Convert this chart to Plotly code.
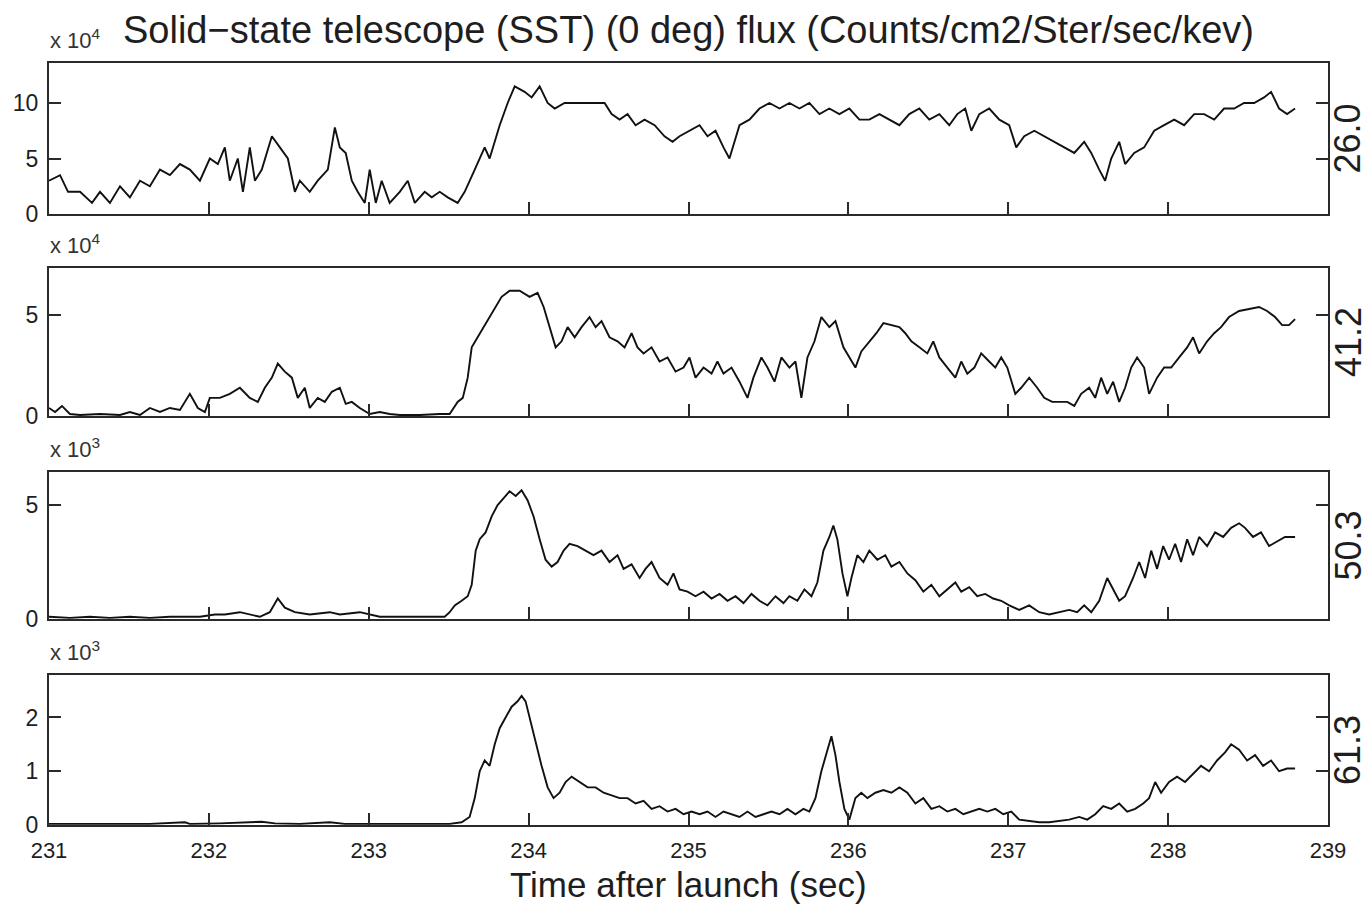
import plotly.graph_objects as go

# Energy channel (keV) for each panel, top to bottom
channels = ["26.0", "41.2", "50.3", "61.3"]
exponents = [4, 4, 3, 3]

# Panel 1: 26.0 keV
t1 = [231.000, 231.069, 231.119, 231.194, 231.269, 231.319, 231.381, 231.444, 231.506, 231.569,
      231.631, 231.694, 231.756, 231.819, 231.881, 231.944, 232.006, 232.056, 232.100, 232.131,
      232.181, 232.213, 232.256, 232.288, 232.331, 232.394, 232.444, 232.494, 232.538, 232.569,
      232.631, 232.681, 232.744, 232.788, 232.819, 232.856, 232.894, 232.931, 232.975, 233.006,
      233.044, 233.081, 233.131, 233.194, 233.244, 233.288, 233.350, 233.394, 233.444, 233.494,
      233.556, 233.600, 233.663, 233.725, 233.756, 233.819, 233.869, 233.913, 233.975, 234.019,
      234.069, 234.119, 234.163, 234.225, 234.288, 234.350, 234.413, 234.475, 234.519, 234.569,
      234.619, 234.669, 234.725, 234.788, 234.850, 234.900, 234.944, 235.006, 235.069, 235.119,
      235.169, 235.219, 235.256, 235.319, 235.381, 235.444, 235.506, 235.569, 235.631, 235.694,
      235.756, 235.819, 235.881, 235.944, 236.006, 236.069, 236.131, 236.194, 236.256, 236.319,
      236.381, 236.444, 236.506, 236.569, 236.631, 236.681, 236.731, 236.769, 236.819, 236.881,
      236.944, 237.006, 237.050, 237.100, 237.163, 237.225, 237.288, 237.350, 237.413, 237.475,
      237.519, 237.569, 237.606, 237.644, 237.694, 237.731, 237.788, 237.850, 237.913, 237.975,
      238.038, 238.100, 238.163, 238.225, 238.288, 238.350, 238.413, 238.475, 238.538, 238.600,
      238.644, 238.694, 238.744, 238.794]
f1 = [3.0, 3.5, 2.0, 2.0, 1.0, 2.0, 1.0, 2.5, 1.5, 3.0,
      2.5, 4.0, 3.5, 4.5, 4.0, 3.0, 5.0, 4.5, 6.0, 3.0,
      5.0, 2.0, 6.0, 3.0, 4.0, 7.0, 6.0, 5.0, 2.0, 3.0,
      2.0, 3.0, 4.0, 7.8, 6.0, 5.5, 3.0, 2.0, 1.0, 4.0,
      1.0, 3.0, 1.0, 2.0, 3.0, 1.0, 2.0, 1.5, 2.0, 1.5,
      1.0, 2.0, 4.0, 6.0, 5.0, 8.0, 10.0, 11.5, 11.0, 10.5,
      11.5, 10.0, 9.5, 10.0, 10.0, 10.0, 10.0, 10.0, 9.0, 8.5,
      9.0, 8.0, 8.5, 8.0, 7.0, 6.5, 7.0, 7.5, 8.0, 7.0,
      7.5, 6.0, 5.0, 8.0, 8.5, 9.5, 10.0, 9.5, 10.0, 9.5,
      10.0, 9.0, 9.5, 9.0, 9.5, 8.5, 8.5, 9.0, 8.5, 8.0,
      9.0, 9.5, 8.5, 9.0, 8.0, 9.0, 9.5, 7.5, 9.0, 9.5,
      8.5, 8.0, 6.0, 7.0, 7.5, 7.0, 6.5, 6.0, 5.5, 6.5,
      5.5, 4.0, 3.0, 5.0, 6.5, 4.5, 5.5, 6.0, 7.5, 8.0,
      8.5, 8.0, 9.0, 9.0, 8.5, 9.5, 9.5, 10.0, 10.0, 10.5,
      11.0, 9.5, 9.0, 9.5]

# Panel 2: 41.2 keV
t2 = [231.000, 231.038, 231.081, 231.131, 231.194, 231.319, 231.444, 231.506, 231.569, 231.631,
      231.694, 231.756, 231.819, 231.881, 231.931, 231.975, 232.006, 232.069, 232.131, 232.194,
      232.256, 232.306, 232.350, 232.394, 232.431, 232.475, 232.519, 232.556, 232.600, 232.631,
      232.681, 232.725, 232.769, 232.819, 232.856, 232.894, 232.944, 233.006, 233.069, 233.131,
      233.194, 233.319, 233.444, 233.506, 233.556, 233.588, 233.619, 233.644, 233.681, 233.719,
      233.756, 233.794, 233.831, 233.881, 233.944, 234.006, 234.056, 234.094, 234.131, 234.169,
      234.206, 234.244, 234.288, 234.331, 234.381, 234.419, 234.456, 234.506, 234.556, 234.600,
      234.644, 234.681, 234.719, 234.769, 234.819, 234.869, 234.919, 234.969, 235.006, 235.044,
      235.094, 235.144, 235.181, 235.219, 235.269, 235.319, 235.369, 235.406, 235.456, 235.494,
      235.538, 235.581, 235.631, 235.669, 235.706, 235.744, 235.788, 235.831, 235.881, 235.919,
      235.969, 236.006, 236.044, 236.081, 236.131, 236.175, 236.219, 236.269, 236.319, 236.356,
      236.394, 236.444, 236.494, 236.531, 236.569, 236.619, 236.669, 236.706, 236.744, 236.788,
      236.831, 236.881, 236.919, 236.956, 236.994, 237.044, 237.081, 237.131, 237.181, 237.225,
      237.275, 237.319, 237.369, 237.413, 237.456, 237.506, 237.544, 237.581, 237.619, 237.656,
      237.694, 237.731, 237.769, 237.806, 237.850, 237.881, 237.931, 237.975, 238.019, 238.069,
      238.119, 238.156, 238.194, 238.244, 238.288, 238.331, 238.381, 238.444, 238.506, 238.569,
      238.619, 238.669, 238.713, 238.756, 238.794]
f2 = [0.4, 0.2, 0.5, 0.1, 0.05, 0.1, 0.05, 0.2, 0.05, 0.4,
      0.2, 0.4, 0.3, 1.1, 0.4, 0.2, 0.9, 0.9, 1.1, 1.4,
      0.9, 0.7, 1.4, 1.9, 2.6, 2.2, 1.9, 0.9, 1.4, 0.4,
      0.9, 0.7, 1.2, 1.4, 0.6, 0.7, 0.4, 0.1, 0.2, 0.1,
      0.05, 0.05, 0.1, 0.1, 0.7, 0.9, 1.9, 3.4, 3.9, 4.4,
      4.9, 5.4, 5.9, 6.2, 6.2, 5.9, 6.1, 5.4, 4.4, 3.4,
      3.7, 4.4, 3.9, 4.4, 4.9, 4.4, 4.7, 3.9, 3.7, 3.4,
      4.1, 3.4, 3.1, 3.4, 2.7, 2.9, 2.2, 2.4, 2.9, 1.9,
      2.4, 2.1, 2.7, 2.1, 2.4, 1.7, 0.9, 1.9, 2.9, 2.4,
      1.7, 2.9, 2.4, 2.7, 0.9, 2.9, 3.7, 4.9, 4.4, 4.7,
      3.4, 2.9, 2.4, 3.2, 3.7, 4.1, 4.6, 4.5, 4.4, 4.1,
      3.7, 3.4, 3.1, 3.7, 2.9, 2.4, 1.9, 2.7, 2.1, 2.4,
      3.1, 2.7, 2.4, 2.9, 2.4, 1.1, 1.4, 1.9, 1.4, 0.9,
      0.7, 0.7, 0.7, 0.5, 1.1, 1.4, 0.9, 1.9, 1.1, 1.7,
      0.7, 1.4, 2.4, 2.9, 2.4, 1.1, 1.9, 2.4, 2.4, 2.9,
      3.4, 3.9, 3.1, 3.7, 4.1, 4.4, 4.9, 5.2, 5.3, 5.4,
      5.2, 4.9, 4.5, 4.5, 4.8]

# Panel 3: 50.3 keV
t3 = [231.000, 231.131, 231.256, 231.381, 231.506, 231.631, 231.756, 231.881, 231.944, 232.038,
      232.100, 232.194, 232.319, 232.381, 232.431, 232.475, 232.538, 232.631, 232.756, 232.819,
      232.944, 233.069, 233.194, 233.381, 233.475, 233.506, 233.538, 233.581, 233.619, 233.644,
      233.669, 233.694, 233.731, 233.769, 233.806, 233.844, 233.881, 233.919, 233.956, 233.994,
      234.031, 234.069, 234.106, 234.144, 234.181, 234.219, 234.256, 234.306, 234.356, 234.406,
      234.456, 234.506, 234.556, 234.594, 234.644, 234.694, 234.731, 234.769, 234.819, 234.869,
      234.906, 234.944, 234.994, 235.044, 235.094, 235.144, 235.194, 235.244, 235.294, 235.344,
      235.394, 235.444, 235.494, 235.544, 235.594, 235.631, 235.681, 235.725, 235.769, 235.806,
      235.844, 235.881, 235.906, 235.931, 235.963, 235.994, 236.019, 236.056, 236.094, 236.131,
      236.181, 236.231, 236.269, 236.319, 236.369, 236.419, 236.469, 236.519, 236.569, 236.619,
      236.669, 236.706, 236.756, 236.806, 236.856, 236.906, 236.956, 237.006, 237.069, 237.131,
      237.194, 237.256, 237.319, 237.381, 237.431, 237.475, 237.519, 237.569, 237.619, 237.656,
      237.694, 237.731, 237.781, 237.819, 237.856, 237.894, 237.931, 237.969, 238.006, 238.044,
      238.081, 238.119, 238.156, 238.194, 238.244, 238.294, 238.344, 238.394, 238.444, 238.481,
      238.531, 238.581, 238.631, 238.681, 238.731, 238.794]
f3 = [0.1, 0.05, 0.1, 0.05, 0.1, 0.05, 0.1, 0.1, 0.1, 0.2,
      0.2, 0.3, 0.1, 0.3, 0.9, 0.5, 0.3, 0.2, 0.3, 0.2,
      0.3, 0.1, 0.1, 0.1, 0.1, 0.3, 0.6, 0.8, 1.0, 1.5,
      3.0, 3.5, 3.8, 4.5, 5.0, 5.3, 5.6, 5.4, 5.65, 5.2,
      4.5, 3.5, 2.6, 2.3, 2.5, 3.0, 3.3, 3.2, 3.0, 2.8,
      3.0, 2.5, 2.8, 2.2, 2.4, 1.8, 2.2, 2.5, 1.8, 1.5,
      2.0, 1.3, 1.2, 1.0, 1.2, 0.9, 1.1, 0.8, 1.0, 0.7,
      1.1, 0.8, 0.6, 1.0, 0.7, 1.0, 0.8, 1.3, 1.0, 1.6,
      3.0, 3.6, 4.1, 3.5, 2.0, 1.0, 1.8, 2.8, 2.5, 3.0,
      2.6, 2.8, 2.3, 2.5, 2.0, 1.7, 1.2, 1.5, 1.0, 1.3,
      1.6, 1.2, 1.4, 1.0, 1.1, 0.9, 0.8, 0.6, 0.4, 0.6,
      0.3, 0.2, 0.3, 0.4, 0.3, 0.6, 0.3, 0.8, 1.8, 1.3,
      0.8, 1.0, 1.8, 2.5, 1.8, 3.0, 2.2, 3.2, 2.6, 3.3,
      2.5, 3.5, 2.8, 3.6, 3.2, 3.8, 3.6, 4.0, 4.2, 4.0,
      3.6, 3.8, 3.2, 3.4, 3.6, 3.6]

# Panel 4: 61.3 keV
t4 = [231.000, 231.194, 231.444, 231.631, 231.850, 231.881, 232.069, 232.256, 232.331, 232.413,
      232.569, 232.756, 232.850, 233.194, 233.506, 233.581, 233.631, 233.663, 233.694, 233.725,
      233.756, 233.788, 233.819, 233.856, 233.894, 233.931, 233.956, 233.981, 234.006, 234.044,
      234.081, 234.119, 234.156, 234.194, 234.231, 234.269, 234.319, 234.369, 234.419, 234.469,
      234.519, 234.569, 234.619, 234.669, 234.719, 234.769, 234.819, 234.869, 234.919, 234.969,
      235.019, 235.069, 235.119, 235.169, 235.219, 235.269, 235.319, 235.369, 235.419, 235.469,
      235.519, 235.569, 235.619, 235.669, 235.719, 235.756, 235.794, 235.831, 235.869, 235.894,
      235.919, 235.944, 235.975, 236.006, 236.044, 236.081, 236.119, 236.169, 236.219, 236.269,
      236.319, 236.369, 236.419, 236.469, 236.519, 236.569, 236.619, 236.669, 236.719, 236.769,
      236.819, 236.869, 236.919, 236.969, 237.019, 237.069, 237.131, 237.194, 237.256, 237.319,
      237.381, 237.444, 237.494, 237.544, 237.594, 237.644, 237.694, 237.744, 237.794, 237.844,
      237.881, 237.919, 237.956, 238.006, 238.056, 238.106, 238.156, 238.206, 238.256, 238.306,
      238.356, 238.394, 238.444, 238.494, 238.544, 238.594, 238.644, 238.694, 238.744, 238.794]
f4 = [0.02, 0.02, 0.01, 0.02, 0.05, 0.02, 0.03, 0.05, 0.06, 0.03,
      0.02, 0.05, 0.02, 0.02, 0.02, 0.05, 0.15, 0.5, 1.0, 1.2,
      1.1, 1.5, 1.8, 2.0, 2.2, 2.3, 2.4, 2.3, 2.0, 1.5,
      1.1, 0.7, 0.5, 0.6, 0.8, 0.9, 0.8, 0.7, 0.7, 0.6,
      0.55, 0.5, 0.5, 0.4, 0.45, 0.3, 0.35, 0.25, 0.3, 0.2,
      0.25, 0.2, 0.25, 0.15, 0.25, 0.2, 0.15, 0.25, 0.15, 0.2,
      0.25, 0.2, 0.3, 0.2, 0.3, 0.25, 0.5, 1.0, 1.4, 1.65,
      1.3, 0.8, 0.3, 0.1, 0.5, 0.6, 0.5, 0.6, 0.65, 0.6,
      0.7, 0.6, 0.4, 0.5, 0.3, 0.35, 0.25, 0.3, 0.2, 0.25,
      0.3, 0.25, 0.3, 0.2, 0.25, 0.1, 0.08, 0.05, 0.05, 0.08,
      0.1, 0.15, 0.1, 0.2, 0.35, 0.3, 0.4, 0.25, 0.3, 0.4,
      0.5, 0.8, 0.6, 0.8, 0.9, 0.8, 0.95, 1.1, 1.0, 1.2,
      1.35, 1.5, 1.4, 1.2, 1.3, 1.1, 1.2, 1.0, 1.05, 1.05]

times = [t1, t2, t3, t4]
fluxes = [f1, f2, f3, f4]

# Axis settings per panel
y_ranges = [[0, 13.6], [0, 7.33], [0, 6.45], [0, 2.79]]
y_ticks = [[0, 5, 10], [0, 5], [0, 5], [0, 1, 2]]
domains = [[0.8018, 1.0], [0.5367, 0.7310], [0.2703, 0.4633], [0.0, 0.1969]]
x_ticks = [231, 232, 233, 234, 235, 236, 237, 238, 239]

FONT = "Liberation Sans, Arial, Helvetica, sans-serif"
AX = "#2a2a2a"
TXT = "#1e1e1e"

fig = go.Figure()
layout = dict(
    width=1368, height=905,
    margin=dict(l=49, r=40, t=63, b=80, autoexpand=False),
    paper_bgcolor="white", plot_bgcolor="white",
    showlegend=False,
    font=dict(family=FONT, size=22, color=TXT),
)

annotations = []
for i in range(4):
    n = "" if i == 0 else str(i + 1)
    fig.add_trace(go.Scatter(
        x=times[i], y=fluxes[i], mode="lines",
        line=dict(color="#111", width=1.9),
        xaxis="x" + n, yaxis="y" + n,
    ))
    layout["xaxis" + n] = dict(
        domain=[0, 1], range=[231, 239],
        anchor="y" + n, automargin=False,
        tickvals=x_ticks, ticks="inside", ticklen=12, tickwidth=1.5, tickcolor=AX,
        showticklabels=(i == 3), ticklabelstandoff=5,
        tickfont=dict(size=22, family=FONT, color=TXT),
        showline=True, linecolor=AX, linewidth=2, mirror=True,
        showgrid=False, zeroline=False,
        **({} if i == 0 else {"matches": "x"}),
    )
    layout["yaxis" + n] = dict(
        domain=domains[i], range=y_ranges[i],
        anchor="x" + n, automargin=False,
        tickvals=y_ticks[i], ticks="inside", ticklen=12, tickwidth=1.5, tickcolor=AX,
        tickfont=dict(size=23, family=FONT, color=TXT), ticklabelstandoff=4,
        showline=True, linecolor=AX, linewidth=2, mirror="ticks",
        showgrid=False, zeroline=False,
    )
    # scale factor above each panel
    annotations.append(dict(
        x=-0.001, y=domains[i][1], xref="paper", yref="paper",
        xanchor="left", yanchor="bottom", yshift=8,
        text="x 10<sup>%d</sup>" % exponents[i], showarrow=False,
        font=dict(size=22, family=FONT, color="#333"),
    ))
    # energy channel on the right
    annotations.append(dict(
        x=1.0, xshift=20, y=(domains[i][0] + domains[i][1]) / 2, xref="paper", yref="paper",
        xanchor="center", yanchor="middle",
        text=channels[i], textangle=-90, showarrow=False,
        font=dict(size=36, family=FONT, color=TXT),
    ))

annotations.append(dict(
    x=0.5, y=1.0, yshift=33, xref="paper", yref="paper", xanchor="center", yanchor="middle",
    text="Solid\u2212state telescope (SST) (0 deg) flux (Counts/cm2/Ster/sec/kev)",
    showarrow=False, font=dict(size=38, family=FONT, color=TXT),
))
annotations.append(dict(
    x=0.5, y=0.0, yshift=-59, xref="paper", yref="paper", xanchor="center", yanchor="middle",
    text="Time after launch (sec)",
    showarrow=False, font=dict(size=35, family=FONT, color=TXT),
))
layout["annotations"] = annotations

fig.update_layout(**layout)
fig.write_html("out.html")
